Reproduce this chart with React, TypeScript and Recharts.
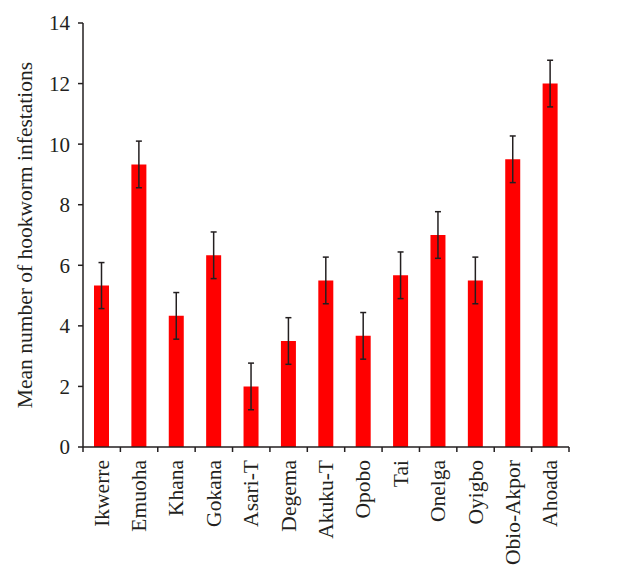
import React from "react";
import { BarChart, Bar, XAxis, YAxis, ErrorBar } from "recharts";

// Mean hookworm infestations per local government area, with error bars
const districts = [
  "Ikwerre",
  "Emuoha",
  "Khana",
  "Gokana",
  "Asari-T",
  "Degema",
  "Akuku-T",
  "Opobo",
  "Tai",
  "Onelga",
  "Oyigbo",
  "Obio-Akpor",
  "Ahoada",
];
const meanInfestations = [5.33, 9.33, 4.33, 6.33, 2.0, 3.5, 5.5, 3.67, 5.67, 7.0, 5.5, 9.5, 12.0];
const errors = [0.76, 0.77, 0.77, 0.77, 0.77, 0.77, 0.77, 0.77, 0.77, 0.77, 0.77, 0.77, 0.77];
const yTicks = [0, 2, 4, 6, 8, 10, 12, 14];

const W = 644;
const H = 580;
const MARGIN = { top: 23, right: 75, bottom: 0, left: 0 };
const Y_AXIS_W = 83;
const INK = "#231f20";
const FONT = "'Liberation Serif', 'Times New Roman', serif";
const BAND = (W - MARGIN.left - MARGIN.right - Y_AXIS_W) / districts.length;

const data = districts.map((name, i) => ({
  name,
  mean: meanInfestations[i],
  err: errors[i],
}));

function DistrictTick(props: any) {
  const { x, y, payload, index } = props;
  const last = index === districts.length - 1;
  return (
    <g>
      <line x1={x - BAND / 2} x2={x - BAND / 2} y1={y} y2={y + 5} stroke={INK} strokeWidth={1.5} />
      {last && (
        <line x1={x + BAND / 2} x2={x + BAND / 2} y1={y} y2={y + 5} stroke={INK} strokeWidth={1.5} />
      )}
      <text
        x={x}
        y={y + 13}
        transform={`rotate(-90, ${x}, ${y + 13})`}
        textAnchor="end"
        dominantBaseline="central"
        fontFamily={FONT}
        fontSize={21.5}
        fill={INK}
      >
        {payload.value}
      </text>
    </g>
  );
}

function YTitle(props: any) {
  const { viewBox } = props;
  const cx = viewBox.x + 25;
  const cy = viewBox.y + viewBox.height / 2;
  return (
    <text
      x={cx}
      y={cy}
      transform={`rotate(-90, ${cx}, ${cy})`}
      textAnchor="middle"
      dominantBaseline="central"
      fontFamily={FONT}
      fontSize={21.5}
      fill={INK}
    >
      Mean number of hookworm infestations
    </text>
  );
}

export default function App() {
  return (
    <div style={{ position: "absolute", left: 0, top: 0, width: W, height: H, background: "#fff" }}>
      <BarChart width={W} height={H} data={data} margin={MARGIN}>
        <XAxis
          dataKey="name"
          interval={0}
          height={133}
          tickSize={0}
          tickMargin={0}
          tickLine={false}
          axisLine={{ stroke: INK, strokeWidth: 1.5 }}
          tick={<DistrictTick />}
        />
        <YAxis
          width={Y_AXIS_W}
          domain={[0, 14]}
          ticks={yTicks}
          interval={0}
          tickSize={5}
          tickMargin={8}
          axisLine={{ stroke: INK, strokeWidth: 1.5 }}
          tickLine={{ stroke: INK, strokeWidth: 1.5 }}
          tick={{ fontFamily: FONT, fontSize: 21, fill: INK }}
          label={<YTitle />}
        />
        <Bar dataKey="mean" fill="#ff0000" barSize={15} isAnimationActive={false}>
          <ErrorBar dataKey="err" width={3} stroke={INK} strokeWidth={1.5} isAnimationActive={false} />
        </Bar>
      </BarChart>
    </div>
  );
}
